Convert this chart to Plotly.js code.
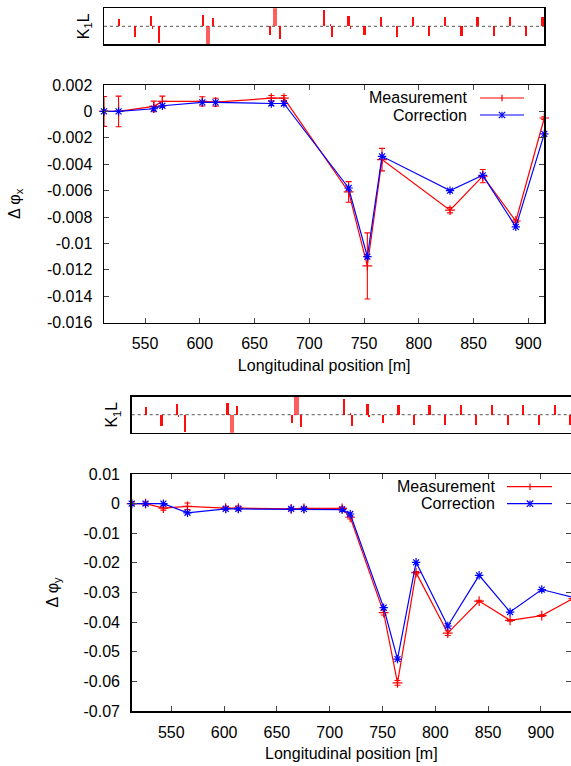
<!DOCTYPE html>
<html><head><meta charset="utf-8">
<script src="https://cdn.plot.ly/plotly-3.0.1.min.js"></script>
<style>html,body{margin:0;padding:0;background:#fff}#chart{width:571px;height:766px}</style>
</head><body><div id="chart"></div>
<script>
// ---------------- DATA ----------------
// Horizontal plane: BPM positions [m], measured phase beat, error, correction model
const sX = [512.5, 525.8, 558.0, 565.8, 602.3, 614.4, 665.3, 676.8, 735.9, 753.0, 766.4, 828.5, 858.4, 888.6, 914.6];
const measX = [0, 0, 0.00038, 0.00076, 0.00076, 0.0007, 0.0010, 0.0010, -0.0061, -0.0117, -0.00365, -0.00748, -0.0049, -0.0083, -0.0005];
const measXErr = [0.00113, 0.00116, 0.0004, 0.0004, 0.00035, 0.0003, 0.0002, 0.0002, 0.00078, 0.0025, 0.00085, 0.0002, 0.0005, 0.0001, 0.0001];
const corrX = [0, 0, 0.0002, 0.00043, 0.00068, 0.00068, 0.0006, 0.0006, -0.0058, -0.011, -0.0034, -0.006, -0.00484, -0.00874, -0.0017];

// Vertical plane
const sY = [512.5, 525.6, 542.5, 565.3, 601.5, 613.5, 663.5, 675.6, 711.8, 719.4, 751.1, 764.2, 781.8, 811.8, 841.5, 870.8, 900.8, 929.0];
const measY = [0, 0, -0.0015, -0.0009, -0.0015, -0.0015, -0.0018, -0.0016, -0.0016, -0.0046, -0.0368, -0.0605, -0.0233, -0.0437, -0.0329, -0.0394, -0.0378, -0.0323];
const measYErr = [0.0006, 0.0006, 0.0007, 0.0011, 0.0006, 0.0007, 0.0004, 0.0004, 0.0005, 0.0006, 0.0008, 0.0008, 0.0004, 0.0008, 0.0003, 0.0003, 0.0003, 0.0003];
const corrY = [0, 0, 0, -0.0031, -0.0018, -0.0018, -0.0018, -0.0018, -0.002, -0.0035, -0.0351, -0.0525, -0.0198, -0.0413, -0.0242, -0.0366, -0.029, -0.0315];

// Quadrupole strengths K1L (relative units), positions and lengths [m]
const kPos = [526.2, 540.8, 555.4, 557.0, 563.0, 603.2, 607.5, 612.3, 664.1, 668.5, 673.0, 713.6, 719.5, 720.9, 735.8, 737.2, 750.5, 765.2, 779.9, 794.6, 809.3, 824.0, 838.9, 853.7, 868.5, 883.3, 898.2, 913.0, 927.8];
const kVal = [0.43, -0.6, 0.57, -0.13, -0.94, 0.64, -1.05, 0.47, -0.47, 1.05, -0.7, 0.9, 0.12, -0.6, 0.57, -0.13, -0.47, 0.53, -0.57, 0.53, -0.55, 0.53, -0.55, 0.53, -0.55, 0.53, -0.55, 0.53, -0.55];
const kLen = [2.1, 2.1, 2.1, 1.0, 2.1, 2.1, 4.0, 2.1, 2.1, 4.0, 2.1, 2.1, 1.0, 2.1, 2.1, 1.0, 2.1, 2.1, 2.1, 2.1, 2.1, 2.1, 2.1, 2.1, 2.1, 2.1, 2.1, 2.1, 2.1];

// Tick labels
const xTickVals = [550, 600, 650, 700, 750, 800, 850, 900];
const xTickText = ['550', '600', '650', '700', '750', '800', '850', '900'];
const yTopVals = [0.002, 0, -0.002, -0.004, -0.006, -0.008, -0.01, -0.012, -0.014, -0.016];
const yTopText = ['0.002', '0', '-0.002', '-0.004', '-0.006', '-0.008', '-0.01', '-0.012', '-0.014', '-0.016'];
const yBotVals = [0.01, 0, -0.01, -0.02, -0.03, -0.04, -0.05, -0.06, -0.07];
const yBotText = ['0.01', '0', '-0.01', '-0.02', '-0.03', '-0.04', '-0.05', '-0.06', '-0.07'];

const seriesNames = ['Measurement', 'Correction'];

// ---------------- LAYOUT ----------------
const W = 571, H = 766;
const px = v => v / W, py = v => 1 - v / H;
const FONT = '"Liberation Sans", Arial, Helvetica, sans-serif';
const font = {family: FONT, size: 16, color: '#000'};
const RED = '#ff0000', BLUE = '#0000ff';

const topL = 104, topR = 544.3, botL = 131.7;
const rangeTop = [512.5, 914.6];
const rangeBot = [512.5, 928.5];

function xMain(domain, range, anchor) {
  return {domain, range, anchor, tickvals: xTickVals, ticktext: xTickText,
    ticks: 'inside', ticklen: 5, tickwidth: 1, tickcolor: '#444',
    showline: true, linecolor: '#000', linewidth: 1.5, mirror: 'ticks',
    showgrid: false, zeroline: false, tickfont: font, ticklabelstandoff: 6,
    title: {text: 'Longitudinal position [m]', font, standoff: 8}};
}
function yMain(domain, range, anchor, vals, text, title, standoff) {
  return {domain, range, anchor, tickvals: vals, ticktext: text,
    ticks: 'inside', ticklen: 5, tickwidth: 1, tickcolor: '#444',
    showline: true, linecolor: '#000', linewidth: 1.5, mirror: 'ticks',
    showgrid: false, zeroline: false, tickfont: font, ticklabelstandoff: 7,
    title: {text: title, font, standoff}};
}
function xStrip(domain, range, anchor) {
  return {domain, range, anchor, showticklabels: false, ticks: '',
    showline: true, linecolor: '#000', linewidth: 1.5, mirror: true,
    showgrid: false, zeroline: false};
}
function yStrip(domain, anchor, standoff) {
  return {domain, range: [-1.0, 1.0], anchor, showticklabels: false, ticks: '',
    showline: true, linecolor: '#000', linewidth: 1.5, mirror: true,
    showgrid: false, zeroline: false,
    title: {text: 'K<sub>1</sub>L', font, standoff}};
}

const traces = [];
function addPlane(s, meas, err, corr, xa, ya) {
  traces.push({x: s, y: meas, xaxis: xa, yaxis: ya, type: 'scatter', mode: 'lines+markers',
    name: seriesNames[0], showlegend: false, cliponaxis: false,
    line: {color: RED, width: 1.2},
    marker: {symbol: 'cross-thin-open', size: 7, color: RED, line: {color: RED, width: 1.2}},
    error_y: {type: 'data', array: err, visible: true, color: RED, thickness: 1.1, width: 3}});
  traces.push({x: s, y: corr, xaxis: xa, yaxis: ya, type: 'scatter', mode: 'lines+markers',
    name: seriesNames[1], showlegend: false, cliponaxis: false,
    line: {color: BLUE, width: 1.2},
    marker: {symbol: 'asterisk-open', size: 7, color: BLUE, line: {color: BLUE, width: 1.2}}});
}
addPlane(sX, measX, measXErr, corrX, 'x', 'y');
addPlane(sY, measY, measYErr, corrY, 'x2', 'y2');

function addStrip(xa, ya) {
  traces.push({x: kPos, y: kVal, width: kLen, xaxis: xa, yaxis: ya, type: 'bar',
    showlegend: false, name: 'K1L',
    marker: {color: kLen.map(l => l > 3 ? 'rgba(255,40,40,0.75)' : 'rgba(255,0,0,0.95)'), line: {width: 0}}});
}
addStrip('x3', 'y3');
addStrip('x4', 'y4');

const shapes = [], annotations = [];
// zero lines of the K1L strips
[['x3', 'y3'], ['x4', 'y4']].forEach(([xa, ya]) => {
  shapes.push({type: 'line', xref: xa + ' domain', yref: ya, x0: 0, x1: 1, y0: 0, y1: 0,
    line: {color: '#555', width: 1, dash: 'dot'}, layer: 'below'});
});

// gnuplot-style keys (text then sample)
function addKey(textRight, y0, lineX0, lineX1, markX) {
  const spacing = 17;
  [[seriesNames[0], RED, 'plus'], [seriesNames[1], BLUE, 'star']].forEach(([name, col, kind], i) => {
    const y = y0 + i * spacing;
    annotations.push({xref: 'paper', yref: 'paper', x: px(textRight), y: py(y), text: name,
      xanchor: 'right', yanchor: 'middle', showarrow: false, font});
    shapes.push({type: 'line', xref: 'paper', yref: 'paper', x0: px(lineX0), x1: px(lineX1), y0: py(y), y1: py(y),
      line: {color: col, width: 1.2}});
    const r = 3.2;
    shapes.push({type: 'line', xref: 'paper', yref: 'paper', x0: px(markX), x1: px(markX), y0: py(y - r), y1: py(y + r),
      line: {color: col, width: 1.2}});
    if (kind === 'star') {
      shapes.push({type: 'line', xref: 'paper', yref: 'paper', x0: px(markX - r), x1: px(markX + r), y0: py(y - r), y1: py(y + r), line: {color: col, width: 1.2}});
      shapes.push({type: 'line', xref: 'paper', yref: 'paper', x0: px(markX - r), x1: px(markX + r), y0: py(y + r), y1: py(y - r), line: {color: col, width: 1.2}});
    }
  });
}
addKey(469, 98, 480, 524, 502);
addKey(497, 486.7, 507, 552, 530);

const layout = {
  width: W, height: H, margin: {l: 0, r: 0, t: 0, b: 0},
  paper_bgcolor: '#fff', plot_bgcolor: '#fff', font, bargap: 0, barmode: 'overlay',
  showlegend: false,
  xaxis: xMain([px(topL), px(topR)], rangeTop, 'y'),
  yaxis: yMain([py(322.7), py(85)], [-0.016, 0.002], 'x', yTopVals, yTopText, 'Δ φ<sub>x</sub>', 22),
  xaxis2: xMain([px(botL), 1], rangeBot, 'y2'),
  yaxis2: yMain([py(711), py(474)], [-0.07, 0.01], 'x2', yBotVals, yBotText, 'Δ φ<sub>y</sub>', 21),
  xaxis3: xStrip([px(topL), px(topR)], rangeTop, 'y3'),
  yaxis3: yStrip([py(44.3), py(8.3)], 'x3', 9),
  xaxis4: xStrip([px(botL), 1], rangeBot, 'y4'),
  yaxis4: yStrip([py(432.7), py(396.7)], 'x4', 8),
  shapes, annotations
};

Plotly.newPlot('chart', traces, layout, {displayModeBar: false, staticPlot: true});
</script>
</body></html>
